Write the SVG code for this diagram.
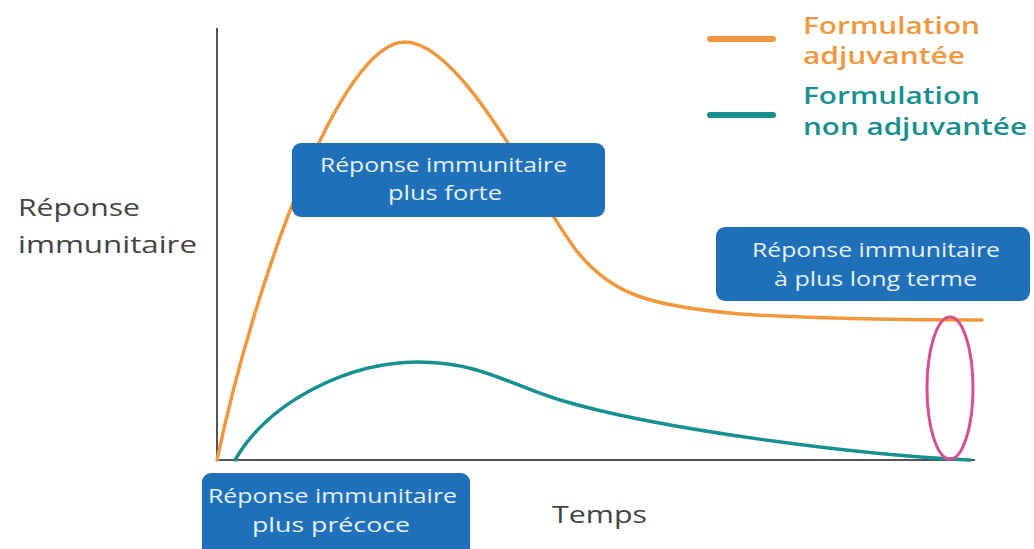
<svg xmlns="http://www.w3.org/2000/svg" width="1034" height="549" viewBox="0 0 1034 549">
<style>
.box{fill:#1f70b8}
.bt{font-family:"Open Sans",sans-serif;font-size:19.5px;fill:#e4f0fa}
.lbl{font-family:"Open Sans",sans-serif;font-size:24px;fill:#444}
.leg{font-family:"Open Sans",sans-serif;font-size:23px;font-weight:600}
</style>
<rect width="1034" height="549" fill="#fff"/>
<g id="axes" stroke="#555" stroke-width="2" fill="none">
<line x1="217" y1="28" x2="217" y2="460"/>
<line x1="217" y1="460" x2="975" y2="460"/>
</g>
<g id="connectors" fill="none" stroke-width="3.5" stroke-linecap="round">
<path id="orange" stroke="#f0983e" d="M217,460 C255,280 340,42 405,42 C465,42 545,215 580,255 C615,295 650,306 740,314 C830,320 920,320 982,320"/>
<path id="teal" stroke="#17908f" d="M235,460 C270,400 350,362 418,362 C480,362 510,385 560,400 C660,430 860,455 970,460"/>
</g>
<g id="highlight"><ellipse cx="950" cy="388" rx="23" ry="71" fill="none" stroke="#d6508f" stroke-width="3"/></g>
<g id="ylabel"><text class="lbl" x="18" y="216" textLength="122" lengthAdjust="spacingAndGlyphs">Réponse</text><text class="lbl" x="18" y="253" textLength="179" lengthAdjust="spacingAndGlyphs">immunitaire</text></g>
<g id="xlabel"><text class="lbl" x="552" y="523" textLength="95" lengthAdjust="spacingAndGlyphs">Temps</text></g>
<g id="legend-adj">
<line x1="710" y1="39" x2="773" y2="39" stroke="#f0983e" stroke-width="6" stroke-linecap="round"/>
<text class="leg" fill="#f0983e" x="803" y="34" textLength="177" lengthAdjust="spacingAndGlyphs">Formulation</text>
<text class="leg" fill="#f0983e" x="803" y="64" textLength="162" lengthAdjust="spacingAndGlyphs">adjuvantée</text>
</g>
<g id="legend-non">
<line x1="710" y1="115" x2="773" y2="115" stroke="#17908f" stroke-width="6" stroke-linecap="round"/>
<text class="leg" fill="#17908f" x="803" y="104" textLength="177" lengthAdjust="spacingAndGlyphs">Formulation</text>
<text class="leg" fill="#17908f" x="803" y="135" textLength="224" lengthAdjust="spacingAndGlyphs">non adjuvantée</text>
</g>
<g id="box-forte"><rect class="box" x="292" y="143" width="313" height="74" rx="9"/>
<text class="bt" x="320" y="172" textLength="247" lengthAdjust="spacingAndGlyphs">Réponse immunitaire</text><text class="bt" x="388" y="200" textLength="114" lengthAdjust="spacingAndGlyphs">plus forte</text></g>
<g id="box-long"><rect class="box" x="716" y="227" width="314" height="74" rx="9"/>
<text class="bt" x="752" y="257" textLength="248" lengthAdjust="spacingAndGlyphs">Réponse immunitaire</text><text class="bt" x="774" y="286" textLength="203" lengthAdjust="spacingAndGlyphs">à plus long terme</text></g>
<g id="box-precoce"><rect class="box" x="202" y="473" width="268" height="85" rx="9"/>
<text class="bt" x="208" y="503" textLength="249" lengthAdjust="spacingAndGlyphs">Réponse immunitaire</text><text class="bt" x="252" y="532" textLength="158" lengthAdjust="spacingAndGlyphs">plus précoce</text></g>
</svg>
